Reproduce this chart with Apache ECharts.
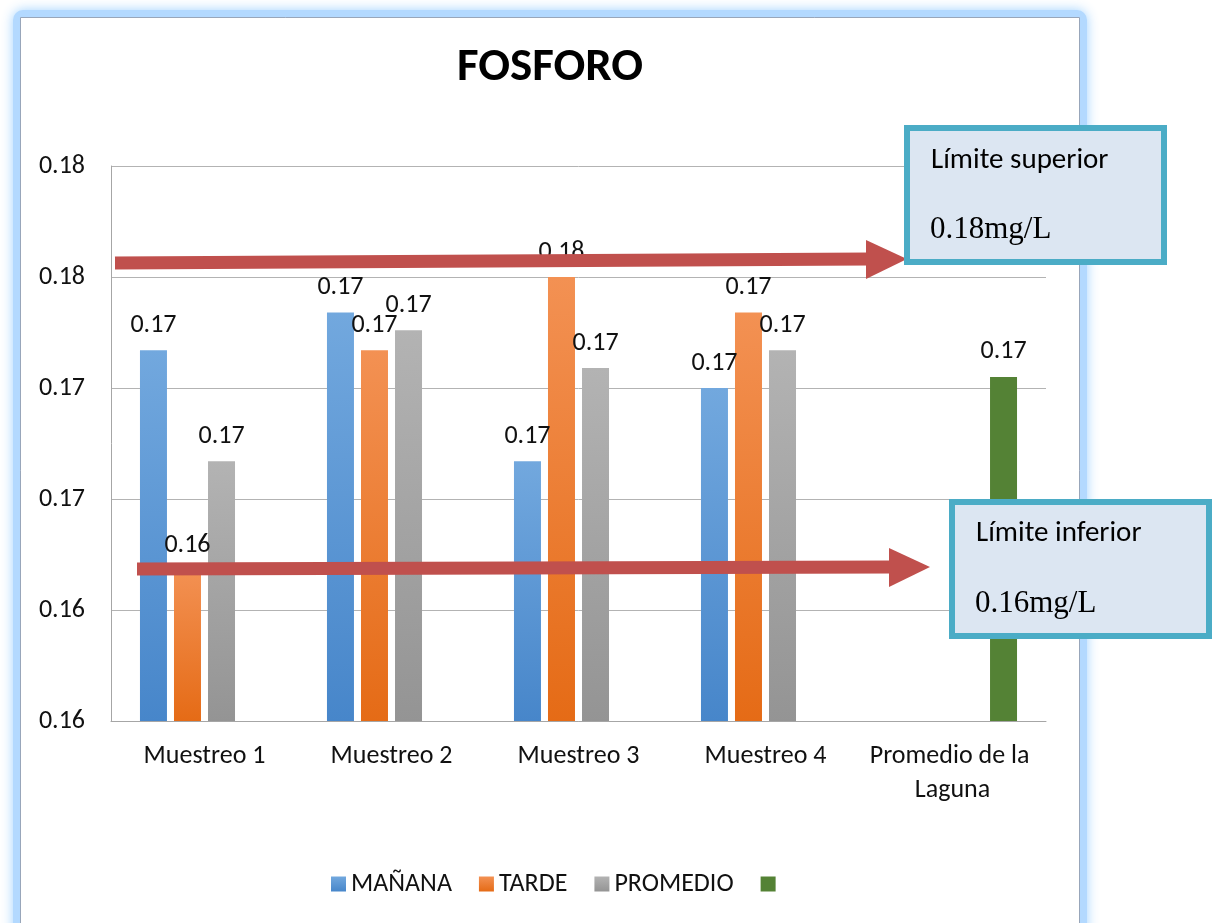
<!DOCTYPE html>
<html>
<head>
<meta charset="utf-8">
<script src="https://cdn.jsdelivr.net/npm/echarts@6/dist/echarts.min.js"></script>
<style>
html,body{margin:0;padding:0;background:#fff;}
#chart{width:1219px;height:923px;}
</style>
</head>
<body>
<div id="chart"></div>
<script>
// ---- data ----
var categories = ['Muestreo 1', 'Muestreo 2', 'Muestreo 3', 'Muestreo 4', 'Promedio de la Laguna'];
var seriesNames = ['MAÑANA', 'TARDE', 'PROMEDIO', ' '];
var manana   = [0.1717, 0.1734, 0.1667, 0.1700, null];
var tarde    = [0.1618, 0.1717, 0.1750, 0.1734, null];
var promedio = [0.1667, 0.1726, 0.1709, 0.1717, null];
var laguna   = [null, null, null, null, 0.1705];
var yMin = 0.155, yMax = 0.18, yStep = 0.005;
var title = 'FOSFORO';
var limSup = ['Límite superior', '0.18mg/L'];
var limInf = ['Límite inferior', '0.16mg/L'];

var FONT = 'Carlito, Calibri, Lato, sans-serif';
var SERIF = 'Liberation Serif, DejaVu Serif, serif';
function fmt2(v) {
  var n = Math.round(v * 1000);
  return (Math.round(n / 10) / 100).toFixed(2);
}
function grad(top, bottom) {
  return { type: 'linear', x: 0, y: 0, x2: 0, y2: 1,
    colorStops: [{ offset: 0, color: top }, { offset: 1, color: bottom }] };
}
var colors = [grad('#72A8DE', '#4786CA'), grad('#F39153', '#E56B16'), grad('#B3B3B3', '#949494'), '#548235'];
var dataSets = [manana, tarde, promedio, laguna];

var series = dataSets.map(function (d, i) {
  return {
    name: seriesNames[i],
    type: 'bar',
    data: d,
    barWidth: 27,
    barGap: '26%',
    itemStyle: { color: colors[i] },
    label: {
      show: true, position: 'top', distance: 12,
      fontFamily: FONT, fontSize: 26, color: '#111',
      formatter: function (p) { return fmt2(p.value); }
    },
    z: 5
  };
});

var chart = echarts.init(document.getElementById('chart'));
chart.setOption({
  animation: false,
  backgroundColor: '#ffffff',
  title: {
    text: title,
    left: 457,
    top: 45,
    padding: 0,
    textStyle: { fontFamily: FONT, fontSize: 47, fontWeight: 'bold', color: '#000' }
  },
  legend: {
    left: 326, top: 866,
    icon: 'rect', itemWidth: 15, itemHeight: 15, itemGap: 27,
    textStyle: { fontFamily: FONT, fontSize: 26, color: '#111' },
    data: seriesNames
  },
  grid: { left: 111, right: 173, top: 166, bottom: 202, containLabel: false },
  xAxis: {
    type: 'category',
    data: categories,
    axisTick: { show: false },
    axisLine: { lineStyle: { color: '#A6A6A6', width: 1 } },
    axisLabel: {
      interval: 0, margin: 18, fontFamily: FONT, fontSize: 26, color: '#111',
      width: 182, overflow: 'break', lineHeight: 34
    }
  },
  yAxis: {
    type: 'value',
    min: yMin, max: yMax, interval: yStep,
    axisLine: { show: true, lineStyle: { color: '#A6A6A6', width: 1 } },
    axisTick: { show: false },
    splitLine: { lineStyle: { color: '#B3B3B3', width: 1 } },
    axisLabel: { margin: 26, fontFamily: FONT, fontSize: 26, color: '#111', formatter: fmt2 }
  },
  graphic: [
    { type: 'rect', z: -20, silent: true,
      shape: { x: 13, y: 10, width: 1074, height: 960, r: 10 },
      style: { fill: '#B3D9FF', shadowBlur: 12, shadowColor: 'rgba(150,205,255,0.9)' } },
    { type: 'rect', z: -10, silent: true,
      shape: { x: 20.5, y: 17.5, width: 1059, height: 940 },
      style: { fill: '#ffffff', stroke: '#98A6BA', lineWidth: 1 } },
    // upper arrow
    { type: 'polyline', z: 100, silent: true,
      shape: { points: [[115, 263], [870, 259]] },
      style: { stroke: '#C0504D', lineWidth: 13 } },
    { type: 'polygon', z: 100, silent: true,
      shape: { points: [[866, 240], [907, 259], [866, 279]] },
      style: { fill: '#C0504D' } },
    // lower arrow
    { type: 'polyline', z: 100, silent: true,
      shape: { points: [[137, 569], [893, 567]] },
      style: { stroke: '#C0504D', lineWidth: 13 } },
    { type: 'polygon', z: 100, silent: true,
      shape: { points: [[889, 548], [930, 567], [889, 587]] },
      style: { fill: '#C0504D' } },
    // upper box
    { type: 'rect', z: 101, silent: true,
      shape: { x: 907, y: 128, width: 257, height: 134 },
      style: { fill: '#DCE6F2', stroke: '#4BACC6', lineWidth: 6 } },
    { type: 'text', z: 102, silent: true, x: 931, y: 161,
      style: { text: limSup[0], fontFamily: FONT, fontSize: 29, fill: '#000', verticalAlign: 'middle' } },
    { type: 'text', z: 102, silent: true, x: 930, y: 230,
      style: { text: limSup[1], fontFamily: SERIF, fontSize: 31, fill: '#000', verticalAlign: 'middle' } },
    // lower box
    { type: 'rect', z: 101, silent: true,
      shape: { x: 952, y: 502, width: 257, height: 134 },
      style: { fill: '#DCE6F2', stroke: '#4BACC6', lineWidth: 6 } },
    { type: 'text', z: 102, silent: true, x: 976, y: 534,
      style: { text: limInf[0], fontFamily: FONT, fontSize: 29, fill: '#000', verticalAlign: 'middle' } },
    { type: 'text', z: 102, silent: true, x: 975, y: 604,
      style: { text: limInf[1], fontFamily: SERIF, fontSize: 31, fill: '#000', verticalAlign: 'middle' } }
  ],
  series: series
});
</script>
</body>
</html>
